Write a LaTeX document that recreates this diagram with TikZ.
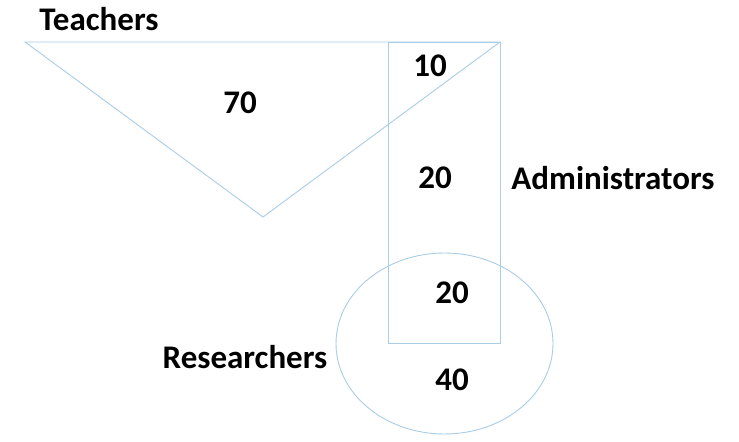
\documentclass[tikz,border=0pt]{standalone}
\usepackage{fontspec}
\setmainfont{Carlito}
\definecolor{setline}{RGB}{168,205,230}
\tikzset{setedge/.style={draw=setline,line width=.45pt},
  settext/.style={font=\bfseries\fontsize{16.5}{19}\selectfont,inner sep=0pt}}
\begin{document}
\begin{tikzpicture}[x=.5pt,y=-.5pt]
\useasboundingbox (0,0) rectangle (739,442);
% teachers triangle
\coordinate (tl) at (25,42); \coordinate (tr) at (500,42); \coordinate (tb) at (263,217);
\draw[setedge] (tl)--(tr)--(tb)--cycle;
% administrators box
\coordinate (al) at (388,42); \coordinate (ab) at (500,343);
\draw[setedge] (al) rectangle (ab);
% researchers ellipse
\coordinate (rc) at (444.5,343.5);
\draw[setedge] (rc) ellipse [x radius=108.5,y radius=90.5];
\node[settext] (teachers) at (99,19) {Teachers};
\node[settext] (admin) at (613,178) {Administrators};
\node[settext] (research) at (245,357) {Researchers};
\foreach \name/\pos/\val in {t/{(240,103)}/70,ta/{(430,66)}/10,a/{(435,178)}/20,ar/{(452,293)}/20,r/{(452,380)}/40}
  \node[settext] (n\name) at \pos {\val};
\end{tikzpicture}
\end{document}
